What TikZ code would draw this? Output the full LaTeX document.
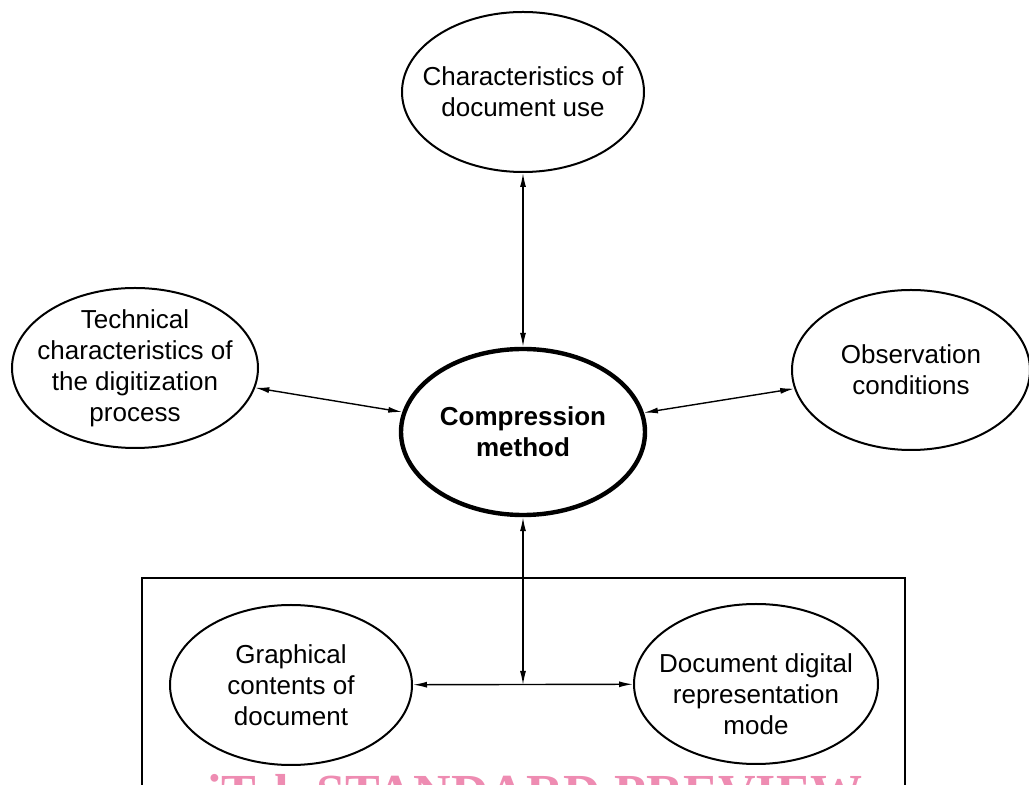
\documentclass[tikz,border=0pt]{standalone}
\usepackage{fontspec}
\setmainfont{Liberation Sans}
\newfontfamily\wmfont{Liberation Serif}
\usepackage{xcolor}
\usetikzlibrary{shapes.geometric,arrows.meta,positioning}

\definecolor{wmpink}{RGB}{238,140,178}

\tikzset{
    bubble/.style={ellipse, draw, line width=1pt, inner xsep=-20pt, inner ysep=-8pt,
        minimum width=121pt, minimum height=80pt, align=center,
        font=\fontsize{13}{15.5}\selectfont},
    hub/.style={bubble, line width=2.2pt, minimum width=122pt,
        minimum height=83pt, font=\fontsize{13}{15.5}\selectfont\bfseries},
    link/.style={{Latex[length=7pt,width=3pt]}-{Latex[length=7pt,width=3pt]}, line width=0.7pt},
}

\begin{document}
\begin{tikzpicture}[x=0.5pt, y=-0.5pt]
        \clip (0,0) rectangle (1029,785);
        % nodes
        \node[hub] (cm) at (523,432) {Compression\\method};
        \node[bubble] (use) at (523,92) {Characteristics of\\document use};
        \node[bubble, minimum width=123pt] (tech) at (135,368) {Technical\\characteristics of\\the digitization\\process};
        \node[bubble, minimum width=119pt] (obs) at (911,370) {Observation\\conditions};
        \node[bubble] (gc) at (291,685) {Graphical\\contents of\\document};
        \node[bubble, minimum width=122pt, text height=50.4pt, text depth=0pt] (dr) at (756,684) {Document digital\\representation\\mode};
        \coordinate (jn) at (cm |- gc);
        % frame round the lower pair
        \draw[line width=0.75pt] (142,800) |- (905,578) -- (905,800);
        % connectors
        \draw[link] (use) -- (cm);
        \draw[link] (tech) -- (cm);
        \draw[link] (obs) -- (cm);
        \draw[link] (gc) -- (dr);
        \draw[link] (cm) -- (jn);
        % watermark
        \node[anchor=base, text=wmpink, font=\wmfont\fontsize{26}{30}\selectfont\bfseries] (wm) at (535,811) {iTeh STANDARD PREVIEW};
    \end{tikzpicture}
\end{document}
